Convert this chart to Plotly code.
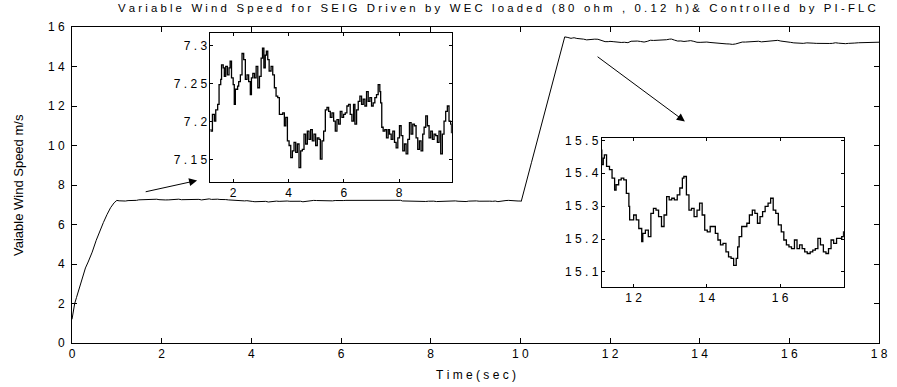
import plotly.graph_objects as go

# ---- simulated wind speed (m/s) against time (s) ----
# start-up transient
t_start = [0.00, 0.02, 0.04, 0.06, 0.10, 0.15, 0.20, 0.25, 0.30, 0.36,
           0.45, 0.54, 0.62, 0.70, 0.78, 0.86, 0.94, 1.00, 1.05, 1.10]
v_start = [1.2, 1.5, 1.8, 2.0, 2.3, 2.7, 3.1, 3.4, 3.8, 4.1,
           4.6, 5.2, 5.7, 6.1, 6.5, 6.85, 7.1, 7.22, 7.20, 7.19]

# low wind plateau (~7.2 m/s)
t_low = [1.19, 1.25, 1.32, 1.37, 1.44, 1.49, 1.55, 1.58, 1.64, 1.68,
         1.73, 1.79, 1.85, 1.89, 1.94, 2.00, 2.04, 2.08, 2.16, 2.20,
         2.26, 2.32, 2.38, 2.44, 2.50, 2.56, 2.62, 2.66, 2.71, 2.77,
         2.83, 2.89, 2.95, 3.01, 3.06, 3.11, 3.16, 3.20, 3.25, 3.30,
         3.37, 3.43, 3.49, 3.55, 3.61, 3.67, 3.73, 3.79, 3.85, 3.90,
         3.96, 4.02, 4.08, 4.14, 4.20, 4.26, 4.32, 4.38, 4.44, 4.50,
         4.56, 4.62, 4.68, 4.74, 4.80, 4.86, 4.92, 4.98, 5.04, 5.10,
         5.15, 5.21, 5.27, 5.33, 5.39, 5.45, 5.51, 5.57, 5.63, 5.69,
         5.75, 5.81, 5.87, 5.93, 5.99, 6.05, 6.11, 6.17, 6.23, 6.29,
         6.35, 6.40, 6.46, 6.52, 6.58, 6.64, 6.70, 6.76, 6.82, 6.88,
         6.94, 7.00, 7.06, 7.12, 7.18, 7.24, 7.30, 7.33, 7.37, 7.42,
         7.48, 7.54, 7.60, 7.65, 7.71, 7.77, 7.83, 7.89, 7.95, 8.01,
         8.07, 8.13, 8.19, 8.25, 8.31, 8.37, 8.43, 8.49, 8.55, 8.61,
         8.67, 8.73, 8.79, 8.85, 8.90, 8.96, 9.02, 9.08, 9.14, 9.20,
         9.26, 9.32, 9.38, 9.44, 9.50, 9.56, 9.62, 9.68, 9.74, 9.80,
         9.86, 9.89, 9.95, 10.00]
v_low = [7.188, 7.210, 7.201, 7.216, 7.223, 7.249, 7.256, 7.275, 7.271, 7.260,
         7.273, 7.262, 7.271, 7.280, 7.258, 7.249, 7.223, 7.243, 7.247, 7.253,
         7.262, 7.290, 7.282, 7.256, 7.262, 7.253, 7.236, 7.258, 7.264, 7.258,
         7.273, 7.245, 7.260, 7.284, 7.297, 7.271, 7.288, 7.293, 7.282, 7.267,
         7.273, 7.262, 7.245, 7.234, 7.232, 7.210, 7.210, 7.212, 7.195, 7.206,
         7.175, 7.169, 7.153, 7.162, 7.173, 7.160, 7.171, 7.140, 7.162, 7.164,
         7.184, 7.171, 7.188, 7.177, 7.190, 7.175, 7.184, 7.169, 7.179, 7.177,
         7.151, 7.175, 7.188, 7.216, 7.219, 7.214, 7.206, 7.212, 7.201, 7.188,
         7.203, 7.197, 7.214, 7.206, 7.210, 7.212, 7.221, 7.223, 7.210, 7.201,
         7.223, 7.197, 7.216, 7.227, 7.234, 7.223, 7.230, 7.221, 7.240, 7.227,
         7.232, 7.221, 7.225, 7.232, 7.236, 7.249, 7.240, 7.225, 7.193, 7.188,
         7.190, 7.179, 7.190, 7.184, 7.177, 7.188, 7.173, 7.166, 7.179, 7.195,
         7.182, 7.162, 7.171, 7.158, 7.177, 7.199, 7.184, 7.197, 7.195, 7.179,
         7.164, 7.175, 7.162, 7.184, 7.193, 7.208, 7.195, 7.179, 7.188, 7.177,
         7.184, 7.182, 7.173, 7.188, 7.158, 7.184, 7.201, 7.214, 7.221, 7.201,
         7.197, 7.186, 7.190, 7.190]

# step change to high wind
t_ramp = [10.02, 10.25, 10.50, 10.75, 10.99, 11.06]
v_ramp = [7.17, 9.15, 11.29, 13.44, 15.50, 15.47]

# high wind plateau (~15.3 m/s)
t_high = [11.13, 11.17, 11.20, 11.26, 11.34, 11.41, 11.48, 11.52, 11.59, 11.66,
          11.73, 11.80, 11.87, 11.89, 11.96, 12.00, 12.07, 12.14, 12.22, 12.25,
          12.32, 12.40, 12.47, 12.54, 12.61, 12.68, 12.76, 12.83, 12.90, 12.97,
          13.04, 13.11, 13.19, 13.26, 13.33, 13.37, 13.44, 13.51, 13.58, 13.65,
          13.73, 13.80, 13.87, 13.94, 14.01, 14.09, 14.16, 14.23, 14.30, 14.37,
          14.44, 14.52, 14.59, 14.66, 14.73, 14.80, 14.84, 14.88, 14.95, 15.02,
          15.09, 15.16, 15.24, 15.31, 15.38, 15.45, 15.52, 15.59, 15.67, 15.74,
          15.81, 15.88, 15.95, 16.03, 16.10, 16.17, 16.24, 16.31, 16.39, 16.46,
          16.53, 16.60, 16.67, 16.74, 16.82, 16.89, 16.96, 17.03, 17.10, 17.18,
          17.25, 17.32, 17.39, 17.46, 17.54, 17.61, 17.68, 17.73, 17.80, 17.90,
          18.00]
v_high = [15.426, 15.446, 15.456, 15.421, 15.411, 15.385, 15.349, 15.365, 15.380, 15.385,
          15.380, 15.339, 15.299, 15.258, 15.258, 15.273, 15.258, 15.232, 15.192, 15.217,
          15.227, 15.207, 15.278, 15.293, 15.288, 15.268, 15.238, 15.273, 15.329, 15.319,
          15.324, 15.319, 15.334, 15.355, 15.385, 15.390, 15.334, 15.288, 15.293, 15.268,
          15.288, 15.309, 15.273, 15.227, 15.222, 15.238, 15.238, 15.217, 15.197, 15.182,
          15.187, 15.161, 15.146, 15.141, 15.120, 15.141, 15.176, 15.207, 15.238, 15.238,
          15.248, 15.273, 15.288, 15.278, 15.248, 15.268, 15.283, 15.299, 15.309, 15.324,
          15.288, 15.278, 15.243, 15.222, 15.197, 15.182, 15.176, 15.171, 15.197, 15.171,
          15.182, 15.171, 15.161, 15.156, 15.161, 15.166, 15.171, 15.202, 15.182, 15.161,
          15.156, 15.171, 15.197, 15.187, 15.202, 15.202, 15.207, 15.222, 15.220, 15.230,
          15.230]

# axis tick positions and labels
main_xticks = [0, 2, 4, 6, 8, 10, 12, 14, 16, 18]
main_xlabels = ["0", "2", "4", "6", "8", "10", "12", "14", "16", "18"]
main_yticks = [0, 2, 4, 6, 8, 10, 12, 14, 16]
main_ylabels = ["0", "2", "4", "6", "8", "10", "12", "14", "16"]
low_xticks = [2, 4, 6, 8]
low_xlabels = ["2", "4", "6", "8"]
low_yticks = [7.15, 7.2, 7.25, 7.3]
low_ylabels = ["7.15", "7.2", "7.25", "7.3"]
high_xticks = [12, 14, 16]
high_xlabels = ["12", "14", "16"]
high_yticks = [15.1, 15.2, 15.3, 15.4, 15.5]
high_ylabels = ["15.1", "15.2", "15.3", "15.4", "15.5"]

t_all = t_start + t_low + t_ramp + t_high
v_all = v_start + v_low + v_ramp + v_high

FONT = "Liberation Sans, Arial, Helvetica, sans-serif"
NB = "\u00a0"


def spaced(text, word_gap=3):
    """Letter-spaced caption: a space between letters, a wider gap between words."""
    words = text.split(" ")
    return (NB * word_gap).join(NB.join(list(w)) for w in words)


fig = go.Figure()
fig.add_trace(go.Scatter(x=t_all, y=v_all, mode="lines",
                         line=dict(color="black", width=1), xaxis="x", yaxis="y"))
fig.add_trace(go.Scatter(x=t_all, y=v_all, mode="lines",
                         line=dict(color="black", width=1.3, shape="hv"), xaxis="x2", yaxis="y2"))
fig.add_trace(go.Scatter(x=t_all, y=v_all, mode="lines",
                         line=dict(color="black", width=1.3, shape="hv"), xaxis="x3", yaxis="y3"))

axis_common = dict(showline=True, linecolor="black", linewidth=1, mirror="ticks",
                   ticks="inside", tickcolor="black", showgrid=False, zeroline=False,
                   tickfont=dict(family=FONT, size=12, color="black"))

inset_common = dict(axis_common, ticklen=3)


def labels(items):
    return [spaced(s) for s in items]


fig.update_layout(
    width=897, height=387,
    margin=dict(l=72, r=9, t=27, b=44),
    paper_bgcolor="white", plot_bgcolor="white",
    showlegend=False,
    font=dict(family=FONT, color="black"),
    xaxis=dict(axis_common, range=[0, 18], tickvals=main_xticks, ticktext=labels(main_xlabels),
               ticklen=5, domain=[0, 1], anchor="y"),
    yaxis=dict(axis_common, range=[0, 16], tickvals=main_yticks, ticktext=labels(main_ylabels),
               ticklen=5, domain=[0, 1], anchor="x", ticklabelstandoff=4),
    xaxis2=dict(inset_common, range=[1.18, 9.9], tickvals=low_xticks, ticktext=labels(low_xlabels),
                domain=[0.1716, 0.4706], anchor="y2"),
    yaxis2=dict(inset_common, range=[7.121, 7.317], tickvals=low_yticks, ticktext=labels(low_ylabels),
                domain=[0.5095, 0.981], anchor="x2"),
    xaxis3=dict(inset_common, range=[11.13, 17.74], tickvals=high_xticks, ticktext=labels(high_xlabels),
                domain=[0.6565, 0.9565], anchor="y3"),
    yaxis3=dict(inset_common, range=[15.054, 15.507], tickvals=high_yticks, ticktext=labels(high_ylabels),
                domain=[0.177, 0.6487], anchor="x3"),
)

annotations = [
    dict(text=spaced("Variable Wind Speed for SEIG Driven by WEC loaded (80 ohm , 0.12 h)& Controlled by PI-FLC"),
         xref="paper", yref="paper", x=0.054, y=1.0, yshift=19, xanchor="left", yanchor="middle",
         showarrow=False, font=dict(family=FONT, size=11.4, color="black")),
    dict(text=spaced("Time(sec)", 1), xref="paper", yref="paper", x=0.5, y=0, yshift=-32,
         xanchor="center", yanchor="middle", showarrow=False,
         font=dict(family=FONT, size=12, color="black")),
    dict(text="Vaiable Wind Speed m/s", xref="paper", yref="paper", x=0, xshift=-54, y=0.5,
         xanchor="center", yanchor="middle", textangle=-90, showarrow=False,
         font=dict(family=FONT, size=13, color="black")),
    # pointers from the plateaus to their zoomed views
    dict(x=2.79, y=8.23, ax=1.61, ay=7.64, xref="x", yref="y", axref="x", ayref="y",
         text="", showarrow=True, arrowhead=2, arrowsize=1.6, arrowwidth=1, arrowcolor="black"),
    dict(x=13.67, y=11.22, ax=11.69, ay=14.55, xref="x", yref="y", axref="x", ayref="y",
         text="", showarrow=True, arrowhead=2, arrowsize=1.6, arrowwidth=1, arrowcolor="black"),
]
fig.update_layout(annotations=annotations)

fig.write_html("out.html")
